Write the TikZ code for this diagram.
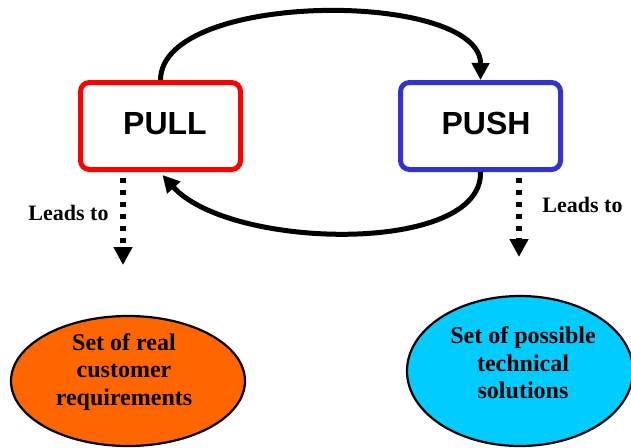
\documentclass[tikz,border=0pt]{standalone}
\usepackage{fontspec}
\setmainfont{Liberation Serif}
\newfontfamily\arialfont{Liberation Sans}
\usetikzlibrary{arrows.meta,shapes.geometric}
\definecolor{pullred}{HTML}{FF0000}
\definecolor{pushblue}{HTML}{3333CC}
\definecolor{reqorange}{HTML}{FF6600}
\definecolor{solcyan}{HTML}{00CCFF}
\begin{document}
\begin{tikzpicture}[x=1pt,y=-1pt,
  modebox/.style={draw, line width=5pt, rounded corners=9pt, fill=white,
    minimum width=160pt, minimum height=87pt, inner sep=0pt, text depth=6pt,
    font=\arialfont\bfseries\fontsize{32}{34}\selectfont},
  setblob/.style={ellipse, draw=black, line width=2.2pt, inner sep=0pt},
  settext/.style={align=center, inner sep=0pt,
    font=\bfseries\fontsize{24}{27.5}\selectfont},
  cycle/.style={line width=5pt, -{Triangle[length=17pt,width=17pt]}},
  leads/.style={line width=6pt, dash pattern=on 5pt off 7pt,
    -{Triangle[length=18pt,width=18pt]}},
  leadlabel/.style={anchor=base, inner sep=0pt,
    font=\bfseries\fontsize{22}{24}\selectfont}]
\useasboundingbox (0,0) rectangle (631,447);

% the two modes
\node[modebox, draw=pullred] (pull) at (160.5,126) {\hspace*{9pt}PULL};
\node[modebox, draw=pushblue] (push) at (480.5,126) {\hspace*{11pt}PUSH};

% the outcome sets
\node[setblob, fill=reqorange, minimum width=234pt, minimum height=130pt]
  (req) at (128,381) {};
\node[settext] (reqtext) at (124,372) {Set of real\\customer\\requirements};
\node[setblob, fill=solcyan, minimum width=226pt, minimum height=150pt]
  (sol) at (520,371) {};
\node[settext] (soltext) at (523,363) {Set of possible\\technical\\solutions};

% cycle between the modes
\draw[cycle] (pull.north) .. controls (161,-10) and (481,-10) .. (push.north);
\draw[cycle] (push.south) .. controls (483,255) and (230,250) .. ([xshift=2pt,yshift=-3pt]pull.south);

% dotted "leads to" arrows
\coordinate (pullfoot) at (123,178);
\coordinate (reqtop) at (123,265);
\coordinate (pushfoot) at (519,178);
\coordinate (soltop) at (519,257);
\draw[leads] (pullfoot) -- (reqtop);
\draw[leads] (pushfoot) -- (soltop);
\node[leadlabel] (lead1) at (68.5,220) {Leads to};
\node[leadlabel] (lead2) at (582.5,212) {Leads to};
\end{tikzpicture}
\end{document}
